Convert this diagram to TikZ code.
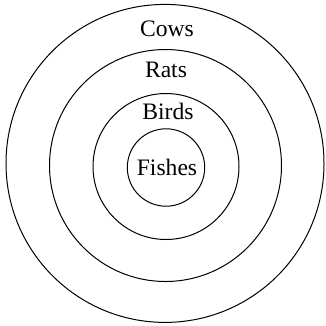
\documentclass[tikz,border=0pt]{standalone}
\usepackage{fontspec}
\setmainfont{Liberation Serif}
\begin{document}
\begin{tikzpicture}[x=1pt,y=-1pt,
  ring/.style={draw=black,line width=1pt},
  lbl/.style={anchor=base,inner sep=0pt,font=\fontsize{23.6}{27}\selectfont}]
\useasboundingbox (0,0) rectangle (326,325);
\draw[ring] (165,163.4) circle[radius=159pt];
\draw[ring] (165.5,165.5) circle[radius=116pt];
\draw[ring] (166,166.5) circle[radius=73pt];
\draw[ring] (166,167.5) circle[radius=38.7pt];
\node[lbl] (cows) at (167,36) {Cows};
\node[lbl] (rats) at (166,77.3) {Rats};
\node[lbl] (birds) at (168,119) {Birds};
\node[lbl] (fishes) at (167,175.7) {Fishes};
\end{tikzpicture}
\end{document}
